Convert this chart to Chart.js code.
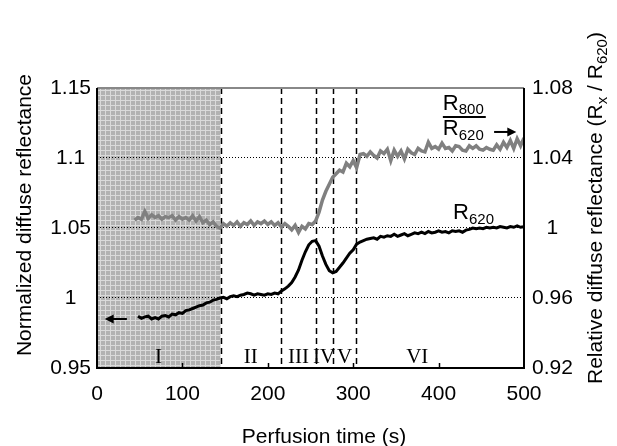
<!DOCTYPE html>
<html>
<head>
<meta charset="utf-8">
<script src="https://cdn.jsdelivr.net/npm/chart.js@4.4.1/dist/chart.umd.min.js"></script>
<style>
  html, body { margin: 0; padding: 0; background: #fff; }
  #wrap { width: 617px; height: 446px; }
</style>
</head>
<body>
<div id="wrap"><canvas id="chart"></canvas></div>
<script>
'use strict';

// perfusion time (s)
const seconds = [
  44, 48, 52, 56, 60, 64, 68, 72, 76, 80, 84,
  88, 92, 96, 100, 104, 108, 112, 116, 120, 124, 128,
  132, 136, 140, 144, 148, 152, 156, 160, 164, 168, 172,
  176, 180, 184, 188, 192, 196, 200, 204, 208, 212, 216,
  220, 224, 228, 232, 236, 240, 244, 248, 252, 256, 260,
  264, 268, 272, 276, 280, 284, 288, 292, 296, 300, 304,
  308, 312, 316, 320, 324, 328, 332, 336, 340, 344, 348,
  352, 356, 360, 364, 368, 372, 376, 380, 384, 388, 392,
  396, 400, 404, 408, 412, 416, 420, 424, 428, 432, 436,
  440, 444, 448, 452, 456, 460, 464, 468, 472, 476, 480,
  484, 488, 492, 496, 500
];

// R620, normalized diffuse reflectance (left axis)
const r620 = [
  null, 0.9870, 0.9855, 0.9865, 0.9870, 0.9850, 0.9860, 0.9850, 0.9870, 0.9875, 0.9865,
  0.9885, 0.9880, 0.9895, 0.9890, 0.9910, 0.9915, 0.9925, 0.9935, 0.9945, 0.9950, 0.9965,
  0.9970, 0.9985, 0.9990, 1.0000, 1.0005, 0.9995, 1.0010, 1.0015, 1.0010, 1.0020, 1.0025,
  1.0035, 1.0030, 1.0020, 1.0030, 1.0025, 1.0020, 1.0030, 1.0025, 1.0035, 1.0030, 1.0050,
  1.0065, 1.0085, 1.0110, 1.0150, 1.0200, 1.0270, 1.0330, 1.0380, 1.0405, 1.0410, 1.0370,
  1.0300, 1.0240, 1.0195, 1.0180, 1.0190, 1.0220, 1.0250, 1.0285, 1.0320, 1.0345, 1.0385,
  1.0400, 1.0410, 1.0420, 1.0425, 1.0430, 1.0420, 1.0440, 1.0435, 1.0445, 1.0440, 1.0455,
  1.0440, 1.0450, 1.0460, 1.0445, 1.0455, 1.0465, 1.0460, 1.0470, 1.0460, 1.0475, 1.0465,
  1.0470, 1.0480, 1.0470, 1.0475, 1.0465, 1.0480, 1.0475, 1.0480, 1.0470, 1.0485, 1.0490,
  1.0500, 1.0495, 1.0500, 1.0495, 1.0505, 1.0500, 1.0505, 1.0500, 1.0510, 1.0505, 1.0500,
  1.0510, 1.0505, 1.0515, 1.0505, 1.0510
];

// R800 / R620, relative diffuse reflectance (right axis)
const r800over620 = [
  1.0045, 1.0060, 1.0050, 1.0095, 1.0055, 1.0075, 1.0060, 1.0070, 1.0050, 1.0065, 1.0060,
  1.0070, 1.0045, 1.0065, 1.0050, 1.0060, 1.0045, 1.0070, 1.0040, 1.0065, 1.0030, 1.0045,
  1.0020, 1.0035, 1.0010, 1.0000, 1.0025, 1.0010, 1.0030, 1.0015, 1.0035, 1.0010, 1.0030,
  1.0020, 1.0040, 1.0015, 1.0035, 1.0025, 1.0040, 1.0020, 1.0035, 1.0015, 1.0030, 1.0005,
  1.0025, 1.0010, 0.9990, 1.0015, 0.9975, 1.0010, 0.9995, 1.0025, 1.0020, 1.0040, 1.0090,
  1.0160, 1.0210, 1.0250, 1.0290, 1.0310, 1.0330, 1.0320, 1.0370, 1.0350, 1.0385, 1.0345,
  1.0420, 1.0425, 1.0410, 1.0435, 1.0415, 1.0400, 1.0440, 1.0425, 1.0450, 1.0385, 1.0445,
  1.0410, 1.0440, 1.0395, 1.0450, 1.0430, 1.0420, 1.0455, 1.0440, 1.0435, 1.0490, 1.0455,
  1.0465, 1.0450, 1.0485, 1.0455, 1.0460, 1.0440, 1.0470, 1.0465, 1.0445, 1.0440, 1.0470,
  1.0455, 1.0470, 1.0450, 1.0445, 1.0460, 1.0450, 1.0445, 1.0475, 1.0450, 1.0490, 1.0460,
  1.0500, 1.0455, 1.0510, 1.0470, 1.0515
];

// phases
const phaseBounds = [145, 215, 257, 276, 303];
const phaseNames = ['I', 'II', 'III', 'IV', 'V', 'VI'];
const phaseCenters = [72, 180, 236, 266, 290, 375];

// tick labels
const xTicks = [0, 100, 200, 300, 400, 500];
const leftTicks = [0.95, 1, 1.05, 1.1, 1.15];
const rightTicks = [0.92, 0.96, 1, 1.04, 1.08];

const SANS = "'Liberation Sans', Arial, sans-serif";
const SERIF = "'Liberation Serif', 'Times New Roman', serif";

Chart.defaults.font.family = SANS;
Chart.defaults.color = '#000';

// grauer Karo-Hintergrund fuer Phase I
function makeShade(ctx) {
  const c = document.createElement('canvas');
  c.width = 5;
  c.height = 5;
  const g = c.getContext('2d');
  g.fillStyle = '#b2b2b2';
  g.fillRect(0, 0, 5, 5);
  g.fillStyle = '#dadada';
  g.fillRect(0, 0, 5, 1);
  g.fillRect(0, 0, 1, 5);
  return ctx.createPattern(c, 'repeat');
}

function arrow(ctx, x0, x1, y) {
  const dir = Math.sign(x1 - x0);
  ctx.beginPath();
  ctx.moveTo(x0, y);
  ctx.lineTo(x1 - dir * 6, y);
  ctx.lineWidth = 2;
  ctx.strokeStyle = '#000';
  ctx.stroke();
  ctx.beginPath();
  ctx.moveTo(x1, y);
  ctx.lineTo(x1 - dir * 9, y - 4.5);
  ctx.lineTo(x1 - dir * 9, y + 4.5);
  ctx.closePath();
  ctx.fillStyle = '#000';
  ctx.fill();
}

// Text mit tiefgestellten Teilen: parts = [[text, size, shift], ...]
function richText(ctx, parts, x, y) {
  let cx = x;
  for (const [txt, size, shift] of parts) {
    ctx.font = `${size}px ${SANS}`;
    ctx.fillText(txt, cx, y + shift);
    cx += ctx.measureText(txt).width;
  }
  return cx - x;
}

const decor = {
  id: 'decor',
  beforeDraw(chart) {
    const { ctx, chartArea: a, scales: { x } } = chart;
    ctx.save();
    ctx.fillStyle = makeShade(ctx);
    const xe = x.getPixelForValue(phaseBounds[0]);
    ctx.fillRect(a.left, a.top, xe - a.left, a.bottom - a.top);
    ctx.restore();
  },
  beforeDatasetsDraw(chart) {
    const { ctx, chartArea: a, scales: { x } } = chart;
    ctx.save();
    ctx.strokeStyle = '#000';
    ctx.lineWidth = 1.5;
    ctx.setLineDash([6, 4]);
    phaseBounds.forEach(b => {
      const px = Math.round(x.getPixelForValue(b)) + 0.5;
      ctx.beginPath();
      ctx.moveTo(px, a.top);
      ctx.lineTo(px, a.bottom);
      ctx.stroke();
    });
    ctx.restore();
  },
  afterDraw(chart) {
    const { ctx, chartArea: a, scales: { x, y } } = chart;
    ctx.save();

    // phase names
    ctx.fillStyle = '#000';
    ctx.font = `21px ${SERIF}`;
    ctx.textAlign = 'center';
    ctx.textBaseline = 'alphabetic';
    phaseNames.forEach((n, i) => {
      ctx.fillText(n, x.getPixelForValue(phaseCenters[i]), y.getPixelForValue(0.9535));
    });

    // inward x ticks
    ctx.strokeStyle = '#000';
    ctx.lineWidth = 1.5;
    xTicks.slice(1, -1).forEach(t => {
      const px = Math.round(x.getPixelForValue(t)) + 0.5;
      ctx.beginPath();
      ctx.moveTo(px, a.bottom);
      ctx.lineTo(px, a.bottom - 5);
      ctx.stroke();
    });

    // frame
    ctx.lineWidth = 2;
    ctx.strokeStyle = '#888';
    ctx.beginPath();
    ctx.moveTo(a.left, a.top);
    ctx.lineTo(a.right, a.top);
    ctx.stroke();
    ctx.strokeStyle = '#000';
    ctx.beginPath();
    ctx.moveTo(a.left, a.top);
    ctx.lineTo(a.left, a.bottom);
    ctx.lineTo(a.right, a.bottom);
    ctx.lineTo(a.right, a.top);
    ctx.stroke();

    // arrows
    arrow(ctx, x.getPixelForValue(35), x.getPixelForValue(9), y.getPixelForValue(0.985));
    arrow(ctx, x.getPixelForValue(465), x.getPixelForValue(491), y.getPixelForValue(1.1186));

    // series labels
    ctx.textAlign = 'left';
    ctx.fillStyle = '#000';
    richText(ctx, [['R', 22, 0], ['620', 15, 5]], x.getPixelForValue(417), y.getPixelForValue(1.0564));
    const fx = x.getPixelForValue(405);
    const w = richText(ctx, [['R', 22, 0], ['800', 15, 4]], fx, y.getPixelForValue(1.1343));
    richText(ctx, [['R', 22, 0], ['620', 15, 5]], fx, y.getPixelForValue(1.1164));
    ctx.lineWidth = 2;
    ctx.beginPath();
    ctx.moveTo(fx, y.getPixelForValue(1.1293));
    ctx.lineTo(fx + w + 2, y.getPixelForValue(1.1293));
    ctx.stroke();

    // axis titles
    ctx.font = `21px ${SANS}`;
    ctx.textAlign = 'center';
    ctx.textBaseline = 'alphabetic';
    ctx.fillText('Perfusion time (s)', 324, 443);

    ctx.save();
    ctx.translate(31, 215);
    ctx.rotate(-Math.PI / 2);
    ctx.fillText('Normalized diffuse reflectance', 0, 0);
    ctx.restore();

    ctx.save();
    ctx.translate(602, 384);
    ctx.rotate(-Math.PI / 2);
    ctx.textAlign = 'left';
    richText(ctx, [
      ['Relative diffuse reflectance (R', 21, 0],
      ['x', 15, 5],
      [' / R', 21, 0],
      ['620', 15, 5],
      [')', 21, 0],
    ], 0, 0);
    ctx.restore();

    ctx.restore();
  },
};

const ctx = document.getElementById('chart').getContext('2d');
new Chart(ctx, {
  type: 'line',
  data: {
    datasets: [
      {
        label: 'R620',
        data: seconds.map((s, i) => ({ x: s, y: r620[i] })),
        yAxisID: 'y',
        borderColor: '#000',
        borderWidth: 3,
        pointRadius: 0,
        tension: 0,
      },
      {
        label: 'R800/R620',
        data: seconds.map((s, i) => ({ x: s, y: r800over620[i] })),
        yAxisID: 'y1',
        borderColor: '#808080',
        borderWidth: 3.5,
        pointRadius: 0,
        tension: 0,
      },
    ],
  },
  options: {
    responsive: true,
    maintainAspectRatio: false,
    animation: false,
    events: [],
    layout: { padding: { top: 88, left: 0, right: 0, bottom: 0 } },
    plugins: {
      legend: { display: false },
      tooltip: { enabled: false },
    },
    scales: {
      x: {
        type: 'linear',
        min: 0,
        max: 500,
        afterBuildTicks: s => { s.ticks = xTicks.map(v => ({ value: v })); },
        afterFit: s => { s.height = 78; },
        grid: { display: false, drawTicks: false },
        border: { display: false },
        ticks: { font: { size: 21 }, padding: 14, maxRotation: 0 },
      },
      y: {
        position: 'left',
        min: 0.95,
        max: 1.15,
        afterBuildTicks: s => { s.ticks = leftTicks.map(v => ({ value: v })); },
        afterFit: s => { s.width = 97; },
        grid: {
          drawTicks: false,
          lineWidth: 1,
          color: c => (c.tick && c.tick.value > 0.96 && c.tick.value < 1.14 ? '#000' : 'rgba(0,0,0,0)'),
        },
        border: { display: false, dash: [1, 2] },
        ticks: {
          font: { size: 21 },
          padding: 6,
          crossAlign: 'center',
          callback: v => String(+v.toFixed(2)),
        },
      },
      y1: {
        position: 'right',
        min: 0.92,
        max: 1.08,
        afterBuildTicks: s => { s.ticks = rightTicks.map(v => ({ value: v })); },
        afterFit: s => { s.width = 93; },
        grid: { display: false, drawTicks: false },
        border: { display: false },
        ticks: {
          font: { size: 21 },
          padding: 8,
          crossAlign: 'center',
          callback: v => String(+v.toFixed(2)),
        },
      },
    },
  },
  plugins: [decor],
});
</script>
</body>
</html>
